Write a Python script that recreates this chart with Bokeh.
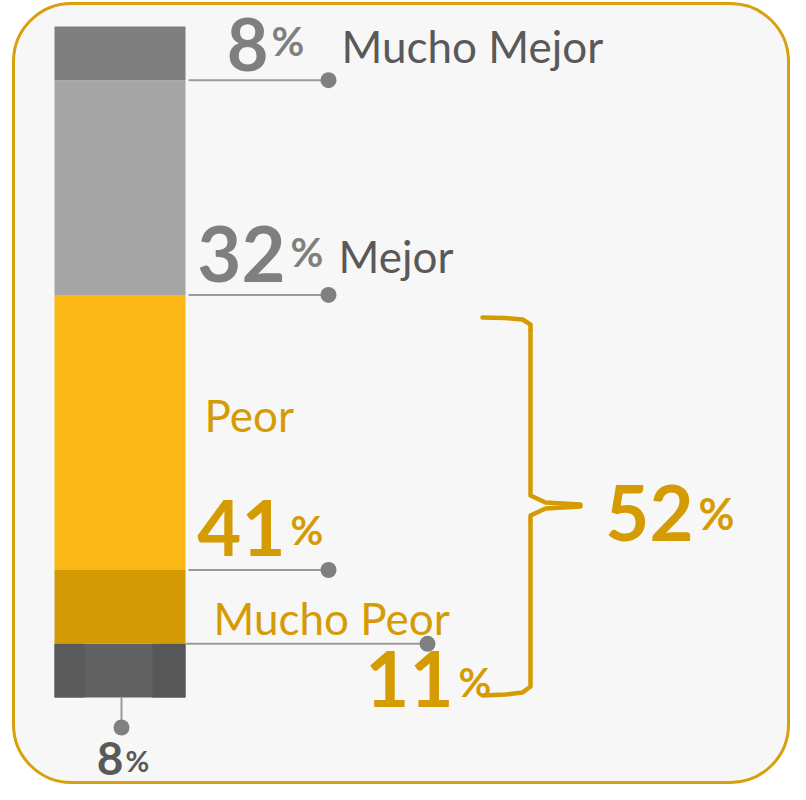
from bokeh.plotting import figure
from bokeh.models import Range1d, BoxAnnotation
from bokeh.core.properties import value
from bokeh.embed import file_html
from bokeh.resources import INLINE

# ---- data ----
categories = ["Mucho Peor (gris)", "Mucho Peor", "Peor", "Mejor", "Mucho Mejor"]
segment_values = [8, 11, 41, 32, 8]          # bottom -> top
segment_colors = ["#616161", "#d49a04", "#fbb715", "#a5a5a5", "#7f7f7f"]
total_negative = 52
pct_labels = ["8", "11", "41", "32", "8"]
name_labels = ["", "Mucho Peor", "Peor", "Mejor", "Mucho Mejor"]

# ---- geometry helpers (reference pixel space -> data space) ----
Y0_PX = 697.0      # pixel row of 0 %
PX_PER_PCT = 6.71


def py(ref_y):
    return (Y0_PX - ref_y) / PX_PER_PCT


W, H = 790, 784
p = figure(width=W, height=H, output_backend="svg", toolbar_location=None,
           x_range=Range1d(0, W), y_range=Range1d(py(H), py(0)),
           min_border=0, background_fill_color="white", border_fill_color="white")
p.axis.visible = False
p.grid.visible = False
p.outline_line_color = None

GOLD = "#d59b03"
GRAY_TXT = "#7f7f7f"
DARK_TXT = "#595959"
LINE_GRAY = "#9a9a9a"
DOT_GRAY = "#808080"
FONT = "Lato"

# rounded panel
panel = BoxAnnotation(left=13, right=788, top=py(3), bottom=py(782),
                      fill_color="#f7f7f7", fill_alpha=1, line_color="#d8a00e",
                      line_alpha=1, line_width=3, border_radius=58, level="underlay")
p.add_layout(panel)

# stacked bar
bottoms, tops = [], []
acc = 0
for v in segment_values:
    bottoms.append(acc)
    acc += v
    tops.append(acc)

BAR_X, BAR_W = 119.5, 131
p.vbar(x=[BAR_X] * len(segment_values), width=BAR_W, bottom=bottoms, top=tops,
       fill_color=segment_colors, line_color=None)
# subtle shading stripes on the bottom segment
p.vbar(x=[69, 168.5], width=[30, 33], bottom=[bottoms[0]] * 2, top=[tops[0]] * 2,
       fill_color=["#5b5b5b", "#575757"], line_color=None)

# connector lines and dots
conn_y = [tops[3], tops[2], tops[1], tops[0]]
conn_x_end = [328, 328, 328, 427]
p.segment(x0=[188, 188, 188, 185], y0=conn_y, x1=conn_x_end, y1=conn_y,
          line_color=LINE_GRAY, line_width=2)
p.scatter(x=conn_x_end, y=conn_y, size=16, fill_color=DOT_GRAY, line_color=None)
# bottom connector
p.segment(x0=[121], y0=[0], x1=[121], y1=[py(727)], line_color=LINE_GRAY, line_width=2)
p.scatter(x=[121], y=[py(727)], size=16, fill_color=DOT_GRAY, line_color=None)

BASE_FIX = 0.39   # compensation for the renderer's alphabetic baseline


def txt(x, y_ref, s, size, color, bold=False, align="left"):
    p.text(x=[x], y=[py(y_ref - BASE_FIX * size)], text=[s], text_font=value(FONT),
           text_font_size=f"{size}px", text_color=color,
           text_font_style="bold" if bold else "normal",
           text_align=align, text_baseline="alphabetic")


BIG = 76
PCT = 40
LBL = 44

# Mucho Mejor (top)
txt(268, 72, pct_labels[4], 72, GRAY_TXT, True, "right")
txt(271, 56, "%", PCT, GRAY_TXT, True)
txt(341, 63, name_labels[4], LBL, DARK_TXT)
# Mejor
txt(285, 283, pct_labels[3], BIG, GRAY_TXT, True, "right")
txt(290, 267, "%", PCT, GRAY_TXT, True)
txt(338, 273, name_labels[3], LBL, DARK_TXT)
# Peor
txt(204, 432, name_labels[2], LBL, GOLD)
txt(285, 557, pct_labels[2], BIG, GOLD, True, "right")
txt(290, 545, "%", PCT, GOLD, True)
# Mucho Peor
txt(213, 635, name_labels[1], LBL, GOLD)
txt(453, 708, pct_labels[1], BIG, GOLD, True, "right")
txt(458, 697, "%", PCT, GOLD, True)
# bottom gray 8%
txt(123, 776, pct_labels[0], 46, DARK_TXT, True, "right")
txt(125, 771, "%", 29, DARK_TXT, True)
# total
txt(693, 542, str(total_negative), BIG, GOLD, True, "right")
txt(698, 530, "%", 44, GOLD, True)

# curly brace
brace_x = [
    [482, 505, 522, 530, 530],
    [530, 530, 545, 580],
    [580, 545, 530, 530],
    [530, 530, 522, 505, 482],
]
brace_y = [
    [py(317), py(317.5), py(319), py(324), py(330)],
    [py(330), py(495), py(502), py(504)],
    [py(506), py(508), py(515), py(520)],
    [py(520), py(686), py(692), py(694), py(695)],
]
p.multi_line(xs=brace_x, ys=brace_y, line_color=GOLD, line_width=4.5,
             line_cap="round", line_join="round")

open("out.html", "w").write(file_html(p, INLINE))
